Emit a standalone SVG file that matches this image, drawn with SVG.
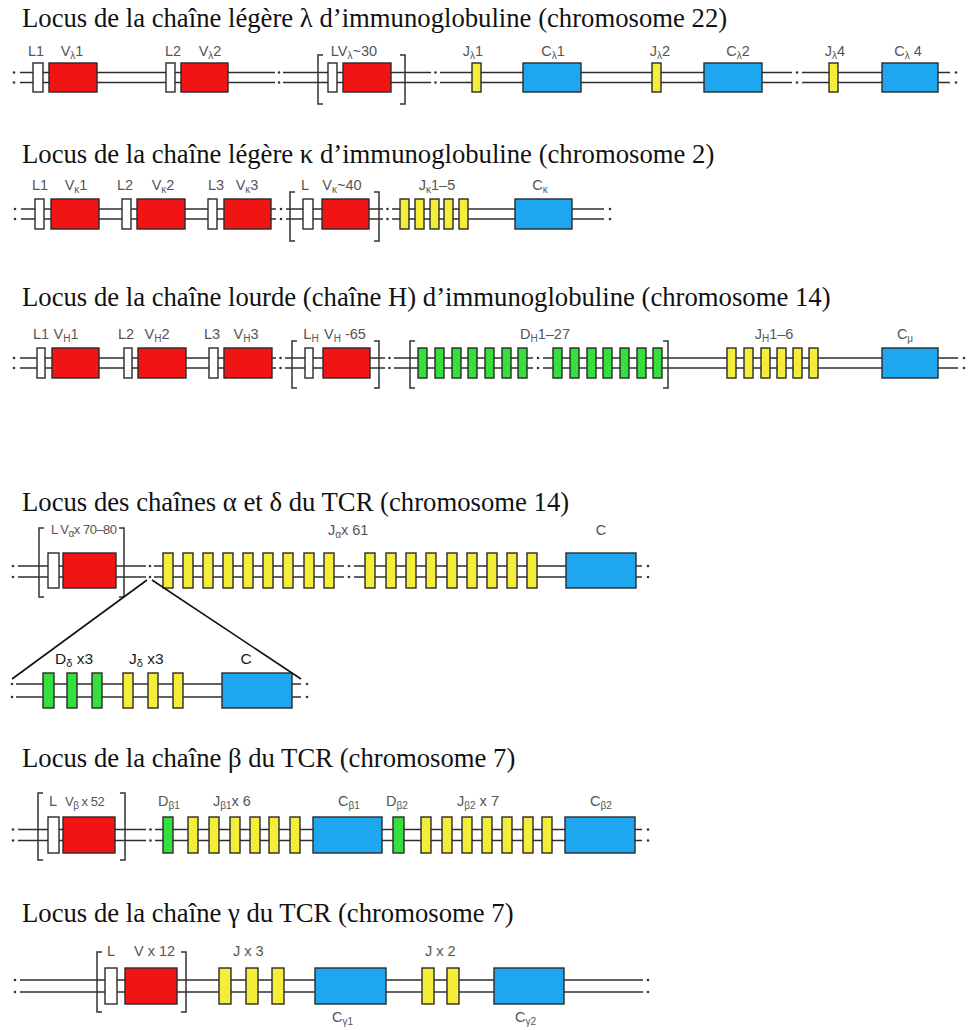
<svg xmlns="http://www.w3.org/2000/svg" width="972" height="1030" viewBox="0 0 972 1030">
  <style>
    .title { font-family: "Liberation Serif", "Times New Roman", serif; font-size: 26.7px; fill: #111; }
    .lab { font-family: "Liberation Sans", Arial, sans-serif; font-size: 14.5px; fill: #555; }
    .tight { font-size: 13px; letter-spacing: -0.5px; }
    .labd { font-family: "Liberation Sans", Arial, sans-serif; font-size: 15.5px; fill: #1a1a1a; }
    .sub { font-size: 10px; }
    .subd { font-size: 11px; }
    .seg { stroke: #2a2a2a; stroke-width: 1.4; }
    .v { fill: #f01414; }
    .c { fill: #1ea6ee; }
    .j { fill: #f4ee3a; }
    .d { fill: #35e03c; }
    .l { fill: #ffffff; }
    .dna line { stroke: #2e2e2e; stroke-width: 1.4; }
    .brk circle { fill: #333; }
    .br { fill: none; stroke: #333; stroke-width: 1.5; }
    .zoom { stroke: #111; stroke-width: 1.6; }
  </style>

  <!-- ===== Locus lambda (chr 22) ===== -->
  <g id="locus-lambda">
    <text class="title" x="22" y="27">Locus de la chaîne légère λ d’immunoglobuline (chromosome 22)</text>
    <g class="dna">
      <line x1="20" y1="72.5" x2="275" y2="72.5"/><line x1="20" y1="82.5" x2="275" y2="82.5"/>
      <line x1="283" y1="72.5" x2="431" y2="72.5"/><line x1="283" y1="82.5" x2="431" y2="82.5"/>
      <line x1="440" y1="72.5" x2="792" y2="72.5"/><line x1="440" y1="82.5" x2="792" y2="82.5"/>
      <line x1="802" y1="72.5" x2="950" y2="72.5"/><line x1="802" y1="82.5" x2="950" y2="82.5"/>
    </g>
    <g class="brk">
      <circle cx="14" cy="72.5" r="1.3"/><circle cx="14" cy="82.5" r="1.3"/>
      <circle cx="279" cy="72.5" r="1.3"/><circle cx="279" cy="82.5" r="1.3"/>
      <circle cx="435.5" cy="72.5" r="1.3"/><circle cx="435.5" cy="82.5" r="1.3"/>
      <circle cx="797" cy="72.5" r="1.3"/><circle cx="797" cy="82.5" r="1.3"/>
      <circle cx="956" cy="72.5" r="1.3"/><circle cx="956" cy="82.5" r="1.3"/>
    </g>
    <path class="br" d="M323 55 H318 V104 H323"/>
    <path class="br" d="M400 55 H405 V104 H400"/>
    <g id="l-L1"><rect class="seg l" x="33" y="63" width="10" height="29"/><text class="lab" x="36" y="56" text-anchor="middle">L1</text></g>
    <g id="l-V1"><rect class="seg v" x="49" y="63" width="48" height="29"/><text class="lab" x="72" y="56" text-anchor="middle">V<tspan class="sub" dy="3">λ</tspan><tspan dy="-3">1</tspan></text></g>
    <g id="l-L2"><rect class="seg l" x="166" y="63" width="9" height="29"/><text class="lab" x="173" y="56" text-anchor="middle">L2</text></g>
    <g id="l-V2"><rect class="seg v" x="181" y="63" width="47" height="29"/><text class="lab" x="210" y="56" text-anchor="middle">V<tspan class="sub" dy="3">λ</tspan><tspan dy="-3">2</tspan></text></g>
    <g id="l-Vn"><rect class="seg l" x="328" y="63" width="9" height="29"/><rect class="seg v" x="343" y="63" width="48" height="29"/><text class="lab" x="354" y="56" text-anchor="middle">LV<tspan class="sub" dy="3">λ</tspan><tspan dy="-3">~30</tspan></text></g>
    <g id="l-J1"><rect class="seg j" x="472" y="63" width="9" height="29"/><text class="lab" x="473" y="56" text-anchor="middle">J<tspan class="sub" dy="3">λ</tspan><tspan dy="-3">1</tspan></text></g>
    <g id="l-C1"><rect class="seg c" x="523" y="63" width="58" height="29"/><text class="lab" x="553" y="56" text-anchor="middle">C<tspan class="sub" dy="3">λ</tspan><tspan dy="-3">1</tspan></text></g>
    <g id="l-J2"><rect class="seg j" x="652" y="63" width="9" height="29"/><text class="lab" x="660" y="56" text-anchor="middle">J<tspan class="sub" dy="3">λ</tspan><tspan dy="-3">2</tspan></text></g>
    <g id="l-C2"><rect class="seg c" x="704" y="63" width="58" height="29"/><text class="lab" x="738" y="56" text-anchor="middle">C<tspan class="sub" dy="3">λ</tspan><tspan dy="-3">2</tspan></text></g>
    <g id="l-J4"><rect class="seg j" x="829" y="63" width="9" height="29"/><text class="lab" x="835" y="56" text-anchor="middle">J<tspan class="sub" dy="3">λ</tspan><tspan dy="-3">4</tspan></text></g>
    <g id="l-C4"><rect class="seg c" x="882" y="63" width="56" height="29"/><text class="lab" x="908" y="56" text-anchor="middle">C<tspan class="sub" dy="3">λ</tspan><tspan dy="-3"> 4</tspan></text></g>
  </g>

  <!-- ===== Locus kappa (chr 2) ===== -->
  <g id="locus-kappa">
    <text class="title" x="22" y="163">Locus de la chaîne légère κ d’immunoglobuline (chromosome 2)</text>
    <g class="dna">
      <line x1="21" y1="209" x2="276" y2="209"/><line x1="21" y1="219" x2="276" y2="219"/>
      <line x1="286" y1="209" x2="383" y2="209"/><line x1="286" y1="219" x2="383" y2="219"/>
      <line x1="392" y1="209" x2="604" y2="209"/><line x1="392" y1="219" x2="604" y2="219"/>
    </g>
    <g class="brk">
      <circle cx="15" cy="209" r="1.3"/><circle cx="15" cy="219" r="1.3"/>
      <circle cx="281" cy="209" r="1.3"/><circle cx="281" cy="219" r="1.3"/>
      <circle cx="387.5" cy="209" r="1.3"/><circle cx="387.5" cy="219" r="1.3"/>
      <circle cx="610" cy="209" r="1.3"/><circle cx="610" cy="219" r="1.3"/>
    </g>
    <path class="br" d="M295 192 H290 V241 H295"/>
    <path class="br" d="M374 192 H379 V241 H374"/>
    <g id="k-L1"><rect class="seg l" x="35" y="199" width="9" height="30"/><text class="lab" x="40" y="190" text-anchor="middle">L1</text></g>
    <g id="k-V1"><rect class="seg v" x="51" y="199" width="48" height="30"/><text class="lab" x="76" y="190" text-anchor="middle">V<tspan class="sub" dy="3">κ</tspan><tspan dy="-3">1</tspan></text></g>
    <g id="k-L2"><rect class="seg l" x="122" y="199" width="9" height="30"/><text class="lab" x="125" y="190" text-anchor="middle">L2</text></g>
    <g id="k-V2"><rect class="seg v" x="137" y="199" width="48" height="30"/><text class="lab" x="163" y="190" text-anchor="middle">V<tspan class="sub" dy="3">κ</tspan><tspan dy="-3">2</tspan></text></g>
    <g id="k-L3"><rect class="seg l" x="208" y="199" width="9" height="30"/><text class="lab" x="216" y="190" text-anchor="middle">L3</text></g>
    <g id="k-V3"><rect class="seg v" x="224" y="199" width="47" height="30"/><text class="lab" x="247" y="190" text-anchor="middle">V<tspan class="sub" dy="3">κ</tspan><tspan dy="-3">3</tspan></text></g>
    <g id="k-Vn"><rect class="seg l" x="303" y="199" width="10" height="30"/><rect class="seg v" x="322" y="199" width="47" height="30"/><text class="lab" x="305" y="190" text-anchor="middle">L</text><text class="lab" x="342" y="190" text-anchor="middle">V<tspan class="sub" dy="3">κ</tspan><tspan dy="-3">~40</tspan></text></g>
    <g id="k-J">
      <rect class="seg j" x="400" y="199" width="9" height="30"/><rect class="seg j" x="415" y="199" width="9" height="30"/><rect class="seg j" x="430" y="199" width="9" height="30"/><rect class="seg j" x="444" y="199" width="9" height="30"/><rect class="seg j" x="459" y="199" width="9" height="30"/>
      <text class="lab" x="437" y="190" text-anchor="middle">J<tspan class="sub" dy="3">κ</tspan><tspan dy="-3">1–5</tspan></text>
    </g>
    <g id="k-C"><rect class="seg c" x="515" y="199" width="57" height="30"/><text class="lab" x="540" y="190" text-anchor="middle">C<tspan class="sub" dy="3">κ</tspan></text></g>
  </g>

  <!-- ===== Heavy chain locus (chr 14) ===== -->
  <g id="locus-heavy">
    <text class="title" x="22" y="306">Locus de la chaîne lourde (chaîne H) d’immunoglobuline (chromosome 14)</text>
    <g class="dna">
      <line x1="20" y1="358" x2="276" y2="358"/><line x1="20" y1="368" x2="276" y2="368"/>
      <line x1="285" y1="358" x2="385" y2="358"/><line x1="285" y1="368" x2="385" y2="368"/>
      <line x1="394" y1="358" x2="533" y2="358"/><line x1="394" y1="368" x2="533" y2="368"/>
      <line x1="543" y1="358" x2="958" y2="358"/><line x1="543" y1="368" x2="958" y2="368"/>
    </g>
    <g class="brk">
      <circle cx="14" cy="358" r="1.3"/><circle cx="14" cy="368" r="1.3"/>
      <circle cx="280.5" cy="358" r="1.3"/><circle cx="280.5" cy="368" r="1.3"/>
      <circle cx="389.5" cy="358" r="1.3"/><circle cx="389.5" cy="368" r="1.3"/>
      <circle cx="538" cy="358" r="1.3"/><circle cx="538" cy="368" r="1.3"/>
      <circle cx="964" cy="358" r="1.3"/><circle cx="964" cy="368" r="1.3"/>
    </g>
    <path class="br" d="M297 341 H292 V388 H297"/>
    <path class="br" d="M374 341 H379 V388 H374"/>
    <path class="br" d="M415 341 H410 V388 H415"/>
    <path class="br" d="M663 341 H668 V388 H663"/>
    <g id="h-L1"><rect class="seg l" x="37" y="348" width="8" height="30"/><text class="lab" x="41" y="339" text-anchor="middle">L1</text></g>
    <g id="h-V1"><rect class="seg v" x="52" y="348" width="47" height="30"/><text class="lab" x="66" y="339" text-anchor="middle">V<tspan class="sub" dy="3">H</tspan><tspan dy="-3">1</tspan></text></g>
    <g id="h-L2"><rect class="seg l" x="124" y="348" width="8" height="30"/><text class="lab" x="126" y="339" text-anchor="middle">L2</text></g>
    <g id="h-V2"><rect class="seg v" x="138" y="348" width="48" height="30"/><text class="lab" x="157" y="339" text-anchor="middle">V<tspan class="sub" dy="3">H</tspan><tspan dy="-3">2</tspan></text></g>
    <g id="h-L3"><rect class="seg l" x="209" y="348" width="9" height="30"/><text class="lab" x="212" y="339" text-anchor="middle">L3</text></g>
    <g id="h-V3"><rect class="seg v" x="224" y="348" width="48" height="30"/><text class="lab" x="246" y="339" text-anchor="middle">V<tspan class="sub" dy="3">H</tspan><tspan dy="-3">3</tspan></text></g>
    <g id="h-Vn"><rect class="seg l" x="305" y="348" width="8" height="30"/><rect class="seg v" x="323" y="348" width="47" height="30"/><text class="lab" x="311" y="339" text-anchor="middle">L<tspan class="sub" dy="3">H</tspan></text><text class="lab" x="345" y="339" text-anchor="middle">V<tspan class="sub" dy="3">H</tspan><tspan dy="-3"> -65</tspan></text></g>
    <g id="h-D">
      <rect class="seg d" x="418" y="348" width="9" height="30"/><rect class="seg d" x="435" y="348" width="9" height="30"/><rect class="seg d" x="452" y="348" width="9" height="30"/><rect class="seg d" x="468" y="348" width="9" height="30"/><rect class="seg d" x="485" y="348" width="9" height="30"/><rect class="seg d" x="502" y="348" width="9" height="30"/><rect class="seg d" x="518" y="348" width="9" height="30"/>
      <rect class="seg d" x="553" y="348" width="9" height="30"/><rect class="seg d" x="570" y="348" width="9" height="30"/><rect class="seg d" x="587" y="348" width="9" height="30"/><rect class="seg d" x="603" y="348" width="9" height="30"/><rect class="seg d" x="620" y="348" width="9" height="30"/><rect class="seg d" x="637" y="348" width="9" height="30"/><rect class="seg d" x="653" y="348" width="9" height="30"/>
      <text class="lab" x="545" y="339" text-anchor="middle">D<tspan class="sub" dy="3">H</tspan><tspan dy="-3">1–27</tspan></text>
    </g>
    <g id="h-J">
      <rect class="seg j" x="727" y="348" width="9" height="30"/><rect class="seg j" x="744" y="348" width="9" height="30"/><rect class="seg j" x="761" y="348" width="9" height="30"/><rect class="seg j" x="777" y="348" width="9" height="30"/><rect class="seg j" x="793" y="348" width="9" height="30"/><rect class="seg j" x="809" y="348" width="9" height="30"/>
      <text class="lab" x="774" y="339" text-anchor="middle">J<tspan class="sub" dy="3">H</tspan><tspan dy="-3">1–6</tspan></text>
    </g>
    <g id="h-C"><rect class="seg c" x="882" y="348" width="56" height="30"/><text class="lab" x="905" y="339" text-anchor="middle">C<tspan class="sub" dy="3">μ</tspan></text></g>
  </g>

  <!-- ===== TCR alpha / delta (chr 14) ===== -->
  <g id="locus-alpha-delta">
    <text class="title" x="22" y="511">Locus des chaînes α et δ du TCR (chromosome 14)</text>
    <g class="dna">
      <line x1="18" y1="566" x2="146" y2="566"/><line x1="18" y1="577" x2="146" y2="577"/>
      <line x1="154" y1="566" x2="344" y2="566"/><line x1="154" y1="577" x2="344" y2="577"/>
      <line x1="354" y1="566" x2="642" y2="566"/><line x1="354" y1="577" x2="642" y2="577"/>
      <line x1="16" y1="684" x2="301" y2="684"/><line x1="16" y1="697" x2="301" y2="697"/>
    </g>
    <g class="brk">
      <circle cx="13" cy="566" r="1.3"/><circle cx="13" cy="577" r="1.3"/>
      <circle cx="150" cy="566" r="1.3"/><circle cx="150" cy="577" r="1.3"/>
      <circle cx="349" cy="566" r="1.3"/><circle cx="349" cy="577" r="1.3"/>
      <circle cx="648" cy="566" r="1.3"/><circle cx="648" cy="577" r="1.3"/>
      <circle cx="12" cy="684" r="1.3"/><circle cx="12" cy="697" r="1.3"/>
      <circle cx="307" cy="684" r="1.3"/><circle cx="307" cy="697" r="1.3"/>
    </g>
    <path class="br" d="M44 528 H39 V597 H44"/>
    <path class="br" d="M119 528 H124 V597 H119"/>
    <g id="a-V"><rect class="seg l" x="48" y="553" width="11" height="35"/><rect class="seg v" x="63" y="553" width="53" height="35"/><text class="lab tight" x="51" y="534">L V<tspan class="sub" dy="3">α</tspan><tspan dy="-3">x 70–80</tspan></text></g>
    <g id="a-J">
      <rect class="seg j" x="163" y="553" width="10" height="35"/><rect class="seg j" x="183" y="553" width="10" height="35"/><rect class="seg j" x="203" y="553" width="10" height="35"/><rect class="seg j" x="223" y="553" width="10" height="35"/><rect class="seg j" x="243" y="553" width="10" height="35"/><rect class="seg j" x="263" y="553" width="10" height="35"/><rect class="seg j" x="283" y="553" width="10" height="35"/><rect class="seg j" x="304" y="553" width="10" height="35"/><rect class="seg j" x="324" y="553" width="10" height="35"/>
      <rect class="seg j" x="365" y="553" width="10" height="35"/><rect class="seg j" x="386" y="553" width="10" height="35"/><rect class="seg j" x="406" y="553" width="10" height="35"/><rect class="seg j" x="426" y="553" width="10" height="35"/><rect class="seg j" x="447" y="553" width="10" height="35"/><rect class="seg j" x="467" y="553" width="10" height="35"/><rect class="seg j" x="487" y="553" width="10" height="35"/><rect class="seg j" x="507" y="553" width="10" height="35"/><rect class="seg j" x="527" y="553" width="10" height="35"/>
      <text class="lab" x="328" y="535">J<tspan class="sub" dy="3">α</tspan><tspan dy="-3">x 61</tspan></text>
    </g>
    <g id="a-C"><rect class="seg c" x="566" y="553" width="70" height="35"/><text class="lab" x="601" y="535" text-anchor="middle">C</text></g>
    <g id="d-D">
      <rect class="seg d" x="43" y="673" width="11" height="35"/><rect class="seg d" x="67" y="673" width="10" height="35"/><rect class="seg d" x="92" y="673" width="10" height="35"/>
      <text class="labd" x="55" y="664">D<tspan class="subd" dy="3">δ</tspan><tspan dy="-3"> x3</tspan></text>
    </g>
    <g id="d-J">
      <rect class="seg j" x="123" y="673" width="10" height="35"/><rect class="seg j" x="148" y="673" width="10" height="35"/><rect class="seg j" x="173" y="673" width="10" height="35"/>
      <text class="labd" x="129" y="664">J<tspan class="subd" dy="3">δ</tspan><tspan dy="-3"> x3</tspan></text>
    </g>
    <g id="d-C"><rect class="seg c" x="222" y="673" width="70" height="35"/><text class="labd" x="246" y="664" text-anchor="middle">C</text></g>
  </g>

  <!-- expansion lines: delta locus sits between V-alpha and J-alpha -->
  <g id="connectors">
    <line class="zoom" x1="147" y1="580" x2="12" y2="679"/>
    <line class="zoom" x1="152" y1="580" x2="301" y2="679"/>
  </g>

  <!-- ===== TCR beta (chr 7) ===== -->
  <g id="locus-beta">
    <text class="title" x="22" y="767">Locus de la chaîne β du TCR (chromosome 7)</text>
    <g class="dna">
      <line x1="18" y1="829.5" x2="146" y2="829.5"/><line x1="18" y1="840.5" x2="146" y2="840.5"/>
      <line x1="155" y1="829.5" x2="642" y2="829.5"/><line x1="155" y1="840.5" x2="642" y2="840.5"/>
    </g>
    <g class="brk">
      <circle cx="13" cy="829.5" r="1.3"/><circle cx="13" cy="840.5" r="1.3"/>
      <circle cx="150.5" cy="829.5" r="1.3"/><circle cx="150.5" cy="840.5" r="1.3"/>
      <circle cx="648" cy="829.5" r="1.3"/><circle cx="648" cy="840.5" r="1.3"/>
    </g>
    <path class="br" d="M43 793 H38 V860 H43"/>
    <path class="br" d="M120 793 H125 V860 H120"/>
    <g id="b-V"><rect class="seg l" x="48" y="817" width="11" height="36"/><rect class="seg v" x="63" y="817" width="52" height="36"/><text class="lab" x="53" y="806" text-anchor="middle">L</text><text class="lab tight" x="65" y="806">V<tspan class="sub" dy="3">β</tspan><tspan dy="-3"> x 52</tspan></text></g>
    <g id="b-D1"><rect class="seg d" x="163" y="817" width="10" height="36"/><text class="lab" x="158" y="806">D<tspan class="sub" dy="3">β1</tspan></text></g>
    <g id="b-J1">
      <rect class="seg j" x="188" y="817" width="10" height="36"/><rect class="seg j" x="209" y="817" width="10" height="36"/><rect class="seg j" x="230" y="817" width="10" height="36"/><rect class="seg j" x="250" y="817" width="10" height="36"/><rect class="seg j" x="269" y="817" width="10" height="36"/><rect class="seg j" x="290" y="817" width="10" height="36"/>
      <text class="lab" x="213" y="806">J<tspan class="sub" dy="3">β1</tspan><tspan dy="-3">x 6</tspan></text>
    </g>
    <g id="b-C1"><rect class="seg c" x="313" y="817" width="69" height="36"/><text class="lab" x="338" y="806">C<tspan class="sub" dy="3">β1</tspan></text></g>
    <g id="b-D2"><rect class="seg d" x="393" y="817" width="11" height="36"/><text class="lab" x="386" y="806">D<tspan class="sub" dy="3">β2</tspan></text></g>
    <g id="b-J2">
      <rect class="seg j" x="421" y="817" width="10" height="36"/><rect class="seg j" x="442" y="817" width="10" height="36"/><rect class="seg j" x="462" y="817" width="10" height="36"/><rect class="seg j" x="482" y="817" width="10" height="36"/><rect class="seg j" x="502" y="817" width="10" height="36"/><rect class="seg j" x="523" y="817" width="10" height="36"/><rect class="seg j" x="542" y="817" width="10" height="36"/>
      <text class="lab" x="457" y="806">J<tspan class="sub" dy="3">β2</tspan><tspan dy="-3"> x 7</tspan></text>
    </g>
    <g id="b-C2"><rect class="seg c" x="565" y="817" width="70" height="36"/><text class="lab" x="590" y="806">C<tspan class="sub" dy="3">β2</tspan></text></g>
  </g>

  <!-- ===== TCR gamma (chr 7) ===== -->
  <g id="locus-gamma">
    <text class="title" x="22" y="922">Locus de la chaîne γ du TCR (chromosome 7)</text>
    <g class="dna">
      <line x1="20" y1="980" x2="643" y2="980"/><line x1="20" y1="992" x2="643" y2="992"/>
    </g>
    <g class="brk">
      <circle cx="15" cy="980" r="1.3"/><circle cx="15" cy="992" r="1.3"/>
      <circle cx="648" cy="980" r="1.3"/><circle cx="648" cy="992" r="1.3"/>
    </g>
    <path class="br" d="M102 952 H97 V1012 H102"/>
    <path class="br" d="M181 952 H186 V1012 H181"/>
    <g id="g-V"><rect class="seg l" x="105" y="968" width="12" height="36"/><rect class="seg v" x="125" y="968" width="52" height="36"/><text class="lab" x="111" y="956" text-anchor="middle">L</text><text class="lab" x="134" y="956">V x 12</text></g>
    <g id="g-J1">
      <rect class="seg j" x="219" y="968" width="12" height="36"/><rect class="seg j" x="246" y="968" width="12" height="36"/><rect class="seg j" x="272" y="968" width="12" height="36"/>
      <text class="lab" x="233" y="956">J x 3</text>
    </g>
    <g id="g-C1"><rect class="seg c" x="315" y="968" width="71" height="36"/><text class="lab" x="332" y="1022">C<tspan class="sub" dy="3">γ1</tspan></text></g>
    <g id="g-J2">
      <rect class="seg j" x="422" y="968" width="12" height="36"/><rect class="seg j" x="447" y="968" width="12" height="36"/>
      <text class="lab" x="425" y="956">J x 2</text>
    </g>
    <g id="g-C2"><rect class="seg c" x="494" y="968" width="70" height="36"/><text class="lab" x="515" y="1022">C<tspan class="sub" dy="3">γ2</tspan></text></g>
  </g>
</svg>
